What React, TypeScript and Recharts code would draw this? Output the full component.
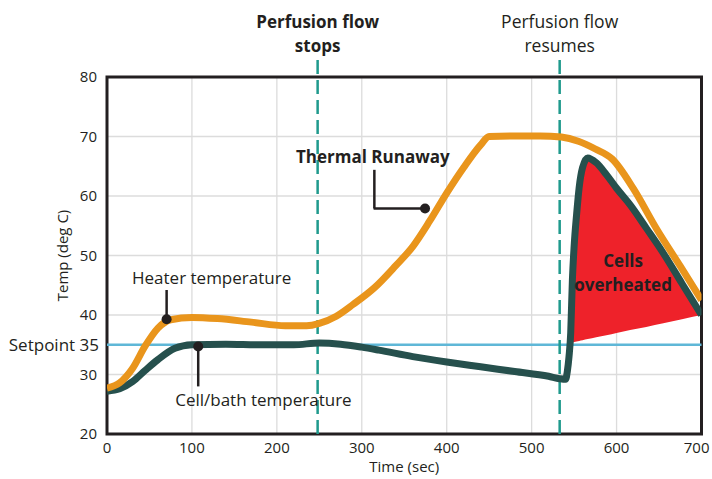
import React from 'react';
import {
  ComposedChart,
  Line,
  Area,
  XAxis,
  YAxis,
  CartesianGrid,
  ReferenceLine,
  ReferenceDot,
  ReferenceArea,
} from 'recharts';

const FONT = '"Open Sans", "Noto Sans", sans-serif';
const INK = '#231F20';
const ORANGE = '#E9951C';
const TEAL_DARK = '#26504D';
const RED = '#EE222A';
const DASH = '#1F9A8D';
const SETPOINT = '#5FB7D7';

const xTicks = [0, 100, 200, 300, 400, 500, 600, 700];
const yTicks = [20, 30, 40, 50, 60, 70, 80];

const heaterTime = [0, 15, 30, 45, 60, 75, 100, 130, 170, 210, 235, 250, 270, 290, 315, 340, 360, 380, 400, 420, 440, 450, 480, 510, 535, 555, 575, 595, 620, 647, 675, 700];
const heaterTemp = [27.7, 28.6, 31, 34.8, 37.8, 39.2, 39.6, 39.4, 38.8, 38.2, 38.2, 38.6, 39.8, 41.8, 44.6, 48.3, 51.5, 55.8, 60.5, 64.8, 68.6, 70, 70.1, 70.1, 69.9, 69.2, 67.9, 66.2, 61.2, 54.5, 48.2, 42.5];

const cellTime = [0, 15, 30, 45, 60, 80, 100, 140, 180, 220, 250, 275, 300, 320, 360, 400, 440, 480, 520, 533, 540, 542, 544, 546, 548, 550, 553, 556, 560, 566, 576, 588, 600, 616, 635, 655, 677, 700];
const cellTemp = [27.2, 27.6, 28.8, 30.7, 32.5, 34.4, 35, 35.1, 35, 35, 35.3, 35.1, 34.6, 34.1, 33, 32.1, 31.3, 30.5, 29.7, 29.3, 29.2, 30.5, 33, 37, 46, 51.5, 57, 61.5, 64.8, 66.4, 65.6, 63.6, 61.3, 58.5, 54.6, 50.4, 45.3, 40];

const overheatTime = [546, 548, 550, 553, 556, 560, 566, 576, 588, 600, 616, 635, 655, 677, 700];
const overheatFloor = [35.35, 35.4, 35.47, 35.56, 35.65, 35.77, 35.95, 36.25, 36.6, 36.98, 37.46, 38.0, 38.6, 39.3, 40];

const setpointTemp = 35;
const flowStopTime = 248;
const flowResumeTime = 533;

const heaterData = heaterTime.map((x, i) => ({ x, y: heaterTemp[i] }));
const cellData = cellTime.map((x, i) => ({ x, y: cellTemp[i] }));
const overheatData = overheatTime.map((x, i) => ({
  x,
  range: [overheatFloor[i], cellTemp[cellTime.indexOf(x)]],
}));

const MultiText = (p: any) => {
  const vb = p.viewBox || {};
  const cx = (vb.x ?? p.x ?? 0) + (vb.width ?? 0) / 2;
  const cy = (vb.y ?? p.y ?? 0) + (vb.height ?? 0) / 2;
  const lines: string[] = p.lines;
  const n = lines.length;
  return (
    <text
      textAnchor="middle"
      fontSize={p.size}
      fontWeight={p.bold ? 700 : 400}
      fill={INK}
      fontFamily={FONT}
    >
      {lines.map((l, i) => (
        <tspan key={i} x={cx} y={cy + (i - (n - 1) / 2) * p.lh} dy="0.35em">
          {l}
        </tspan>
      ))}
    </text>
  );
};

const YLabel = (p: any) => {
  const vb = p.viewBox || {};
  const x = (vb.x ?? 0) + 63;
  const y = (vb.y ?? 0) + (vb.height ?? 0) / 2;
  return (
    <text
      x={x}
      y={y}
      transform={`rotate(-90, ${x}, ${y})`}
      textAnchor="middle"
      dy="0.35em"
      fontSize={15}
      fill={INK}
      fontFamily={FONT}
    >
      Temp (deg C)
    </text>
  );
};

const XTick = (p: any) => {
  const { x, y, payload } = p;
  const last = payload.value === xTicks[xTicks.length - 1];
  return (
    <text
      x={last ? x + 9.5 : x}
      y={y}
      dy="0.71em"
      textAnchor={last ? 'end' : 'middle'}
      fontSize={15}
      fill={INK}
      fontFamily={FONT}
    >
      {payload.value}
    </text>
  );
};

const tickStyle = { fontSize: 15, fill: INK, fontFamily: FONT };

export default function App() {
  return (
    <div style={{ position: 'absolute', left: 0, top: 0, fontFamily: FONT, background: '#fff' }}>
      <ComposedChart
        width={712}
        height={479}
        margin={{ top: 77, right: 10.5, left: 0, bottom: 0 }}
      >
        <CartesianGrid stroke="#DCDCDC" strokeWidth={1.3} />
        <XAxis
          type="number"
          dataKey="x"
          domain={[0, 700]}
          ticks={xTicks}
          allowDataOverflow
          height={45}
          axisLine={false}
          tickLine={false}
          tick={<XTick />}
          tickMargin={2}
          label={{ value: 'Time (sec)', position: 'insideBottom', offset: 7, style: { fontSize: 15, fill: INK, fontFamily: FONT } }}
        />
        <YAxis
          type="number"
          domain={[20, 80]}
          ticks={yTicks}
          allowDataOverflow
          width={107}
          axisLine={false}
          tickLine={false}
          tick={tickStyle}
          tickMargin={4}
          label={{ content: <YLabel /> }}
        />

        <ReferenceLine
          y={setpointTemp}
          stroke={SETPOINT}
          strokeWidth={2.5}
          label={{ value: 'Setpoint 35', position: 'left', offset: 8, style: { fontSize: 17, fill: INK, fontFamily: FONT } }}
        />
        <ReferenceLine
          segment={[{ x: flowStopTime, y: 20 }, { x: flowStopTime, y: 83.4 }]}
          stroke={DASH}
          strokeWidth={2.5}
          strokeDasharray="14 6"
          ifOverflow="visible"
        />
        <ReferenceLine
          segment={[{ x: flowResumeTime, y: 20 }, { x: flowResumeTime, y: 83.4 }]}
          stroke={DASH}
          strokeWidth={2.5}
          strokeDasharray="14 6"
          ifOverflow="visible"
        />

        <Area
          data={overheatData}
          dataKey="range"
          type="monotone"
          fill={RED}
          fillOpacity={1}
          stroke="none"
          isAnimationActive={false}
          activeDot={false}
          dot={false}
        />
        <Line
          data={cellData}
          dataKey="y"
          type="monotone"
          stroke={TEAL_DARK}
          strokeWidth={7}
          dot={false}
          activeDot={false}
          isAnimationActive={false}
        />
        <Line
          data={heaterData}
          dataKey="y"
          type="monotone"
          stroke={ORANGE}
          strokeWidth={7}
          dot={false}
          activeDot={false}
          isAnimationActive={false}
        />

        {/* leader lines */}
        <ReferenceLine segment={[{ x: 70.2, y: 44.2 }, { x: 70.2, y: 39.3 }]} stroke={INK} strokeWidth={2.5} ifOverflow="visible" />
        <ReferenceLine segment={[{ x: 107.4, y: 34.7 }, { x: 107.4, y: 28.0 }]} stroke={INK} strokeWidth={2.5} ifOverflow="visible" />
        <ReferenceLine segment={[{ x: 314.8, y: 64.4 }, { x: 314.8, y: 57.9 }]} stroke={INK} strokeWidth={2.5} ifOverflow="visible" />
        <ReferenceLine segment={[{ x: 313.9, y: 57.9 }, { x: 374.5, y: 57.9 }]} stroke={INK} strokeWidth={2.5} ifOverflow="visible" />

        <ReferenceDot x={70.2} y={39.3} r={5} fill={INK} stroke="none" ifOverflow="visible" />
        <ReferenceDot x={107.4} y={34.7} r={5} fill={INK} stroke="none" ifOverflow="visible" />
        <ReferenceDot x={374.5} y={57.9} r={5} fill={INK} stroke="none" ifOverflow="visible" />

        {/* text annotations */}
        <ReferenceDot x={123.2} y={46.2} r={1} fill="none" stroke="none" ifOverflow="visible"
          label={<MultiText lines={['Heater temperature']} size={17} lh={22} />} />
        <ReferenceDot x={184.2} y={25.7} r={1} fill="none" stroke="none" ifOverflow="visible"
          label={<MultiText lines={['Cell/bath temperature']} size={17} lh={22} />} />
        <ReferenceDot x={313} y={66.6} r={1} fill="none" stroke="none" ifOverflow="visible"
          label={<MultiText lines={['Thermal Runaway']} size={17} bold lh={22} />} />
        <ReferenceDot x={607.7} y={47.1} r={1} fill="none" stroke="none" ifOverflow="visible"
          label={<MultiText lines={['Cells', 'overheated']} size={17} bold lh={24} />} />
        <ReferenceDot x={flowStopTime} y={87.2} r={1} fill="none" stroke="none" ifOverflow="visible"
          label={<MultiText lines={['Perfusion flow', 'stops']} size={17} bold lh={24} />} />
        <ReferenceDot x={flowResumeTime} y={87.2} r={1} fill="none" stroke="none" ifOverflow="visible"
          label={<MultiText lines={['Perfusion flow', 'resumes']} size={17.5} lh={24} />} />

        <ReferenceArea x1={0} x2={700} y1={20} y2={80} fill="none" stroke={INK} strokeWidth={3} ifOverflow="visible" />
      </ComposedChart>
    </div>
  );
}
